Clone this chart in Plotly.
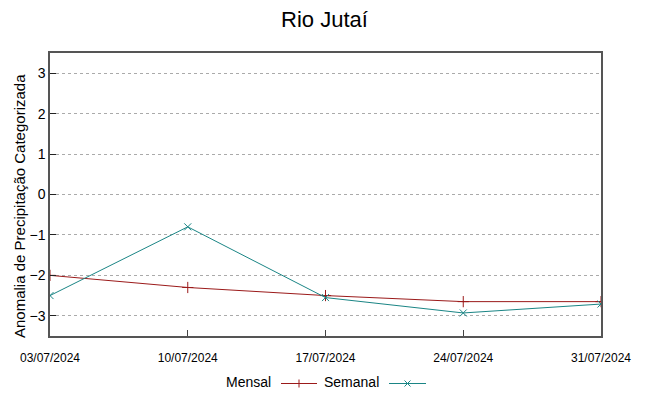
import plotly.graph_objects as go

dates = ["2024-07-03", "2024-07-10", "2024-07-17", "2024-07-24", "2024-07-31"]
tick_labels = ["03/07/2024", "10/07/2024", "17/07/2024", "24/07/2024", "31/07/2024"]
mensal = [-2.0, -2.3, -2.5, -2.65, -2.65]
semanal = [-2.5, -0.8, -2.55, -2.93, -2.71]
y_ticks = [-3, -2, -1, 0, 1, 2, 3]
series_names = ["Mensal", "Semanal"]
colors = ["#9b1a1a", "#1a8585"]

# page has an 8px body margin, so the figure is sized 641x388
W, H = 641, 388
ML, MR, MT, MB = 42, 48, 45, 60
OFF = 8
PW, PH = W - ML - MR, H - MT - MB


def px(X):  # page pixel -> paper x
    return (X - OFF - ML) / PW


def py(Y):  # page pixel -> paper y
    return (H - MB - (Y - OFF)) / PH


fig = go.Figure()
fig.add_trace(go.Scatter(x=dates, y=mensal, name=series_names[0], mode="lines+markers",
                         line=dict(color=colors[0], width=1),
                         marker=dict(symbol="cross-thin", size=8, line=dict(color=colors[0], width=1))))
fig.add_trace(go.Scatter(x=dates, y=semanal, name=series_names[1], mode="lines+markers",
                         line=dict(color=colors[1], width=1),
                         marker=dict(symbol="x-thin", size=7, line=dict(color=colors[1], width=1))))

# gnuplot-style legend: text, then line sample with marker
legend_y = 383.5
text_right = [273, 381]
sample = [(281, 317), (389, 426)]
annotations = []
shapes = []
for name, col, tr, (x0, x1) in zip(series_names, colors, text_right, sample):
    annotations.append(dict(text=name, xref="paper", yref="paper", x=px(tr), y=py(382),
                            xanchor="right", yanchor="middle", showarrow=False,
                            font=dict(size=14, family="Liberation Sans", color="#000000")))
    shapes.append(dict(type="line", xref="paper", yref="paper", x0=px(x0), x1=px(x1),
                       y0=py(legend_y), y1=py(legend_y), line=dict(color=col, width=1)))
mx = (x0 + x1) / 2
shapes.append(dict(type="line", xref="paper", yref="paper", x0=px(299), x1=px(299),
                   y0=py(legend_y - 4), y1=py(legend_y + 4), line=dict(color=colors[0], width=1)))
for d in (-1, 1):
    shapes.append(dict(type="line", xref="paper", yref="paper", x0=px(mx - 3), x1=px(mx + 3),
                       y0=py(legend_y - 3 * d), y1=py(legend_y + 3 * d),
                       line=dict(color=colors[1], width=1)))

# y axis title as a rotated annotation (gnuplot places it slightly below centre)
annotations.append(dict(text="Anomalia de Precipitação Categorizada", xref="paper", yref="paper",
                        x=px(19), y=py(206), xanchor="center", yanchor="middle",
                        textangle=-90, showarrow=False,
                        font=dict(size=15, family="Liberation Sans", color="#000000")))

fig.update_layout(
    width=W, height=H,
    paper_bgcolor="white", plot_bgcolor="white",
    margin=dict(l=ML, r=MR, t=MT, b=MB, autoexpand=False),
    font=dict(family="Liberation Sans", color="#000000"),
    title=dict(text="Rio Jutaí", x=(324.5 - OFF) / W, xanchor="center", y=1 - 11 / H, yanchor="middle",
               font=dict(size=22, family="Liberation Sans")),
    showlegend=False,
    annotations=annotations,
    shapes=shapes,
)
fig.update_xaxes(type="date", range=[dates[0], dates[-1]], tickvals=dates, ticktext=tick_labels,
                 automargin=False,
                 showgrid=False, zeroline=False, showline=True, linecolor="#555555", linewidth=1.5,
                 mirror=True, ticks="inside", ticklen=6, tickcolor="#444444",
                 ticklabelstandoff=10,
                 tickfont=dict(size=12, family="Liberation Sans"))
fig.update_yaxes(range=[-3.5, 3.5], tickvals=y_ticks, showgrid=True, gridcolor="#aaaaaa",
                 automargin=False,
                 griddash="dot", gridwidth=1, zeroline=False, showline=True, linecolor="#555555",
                 linewidth=1.5, mirror=True, ticks="inside", ticklen=6, tickcolor="#222222",
                 tickfont=dict(size=14, family="Liberation Sans"))

fig.write_html("out.html")
